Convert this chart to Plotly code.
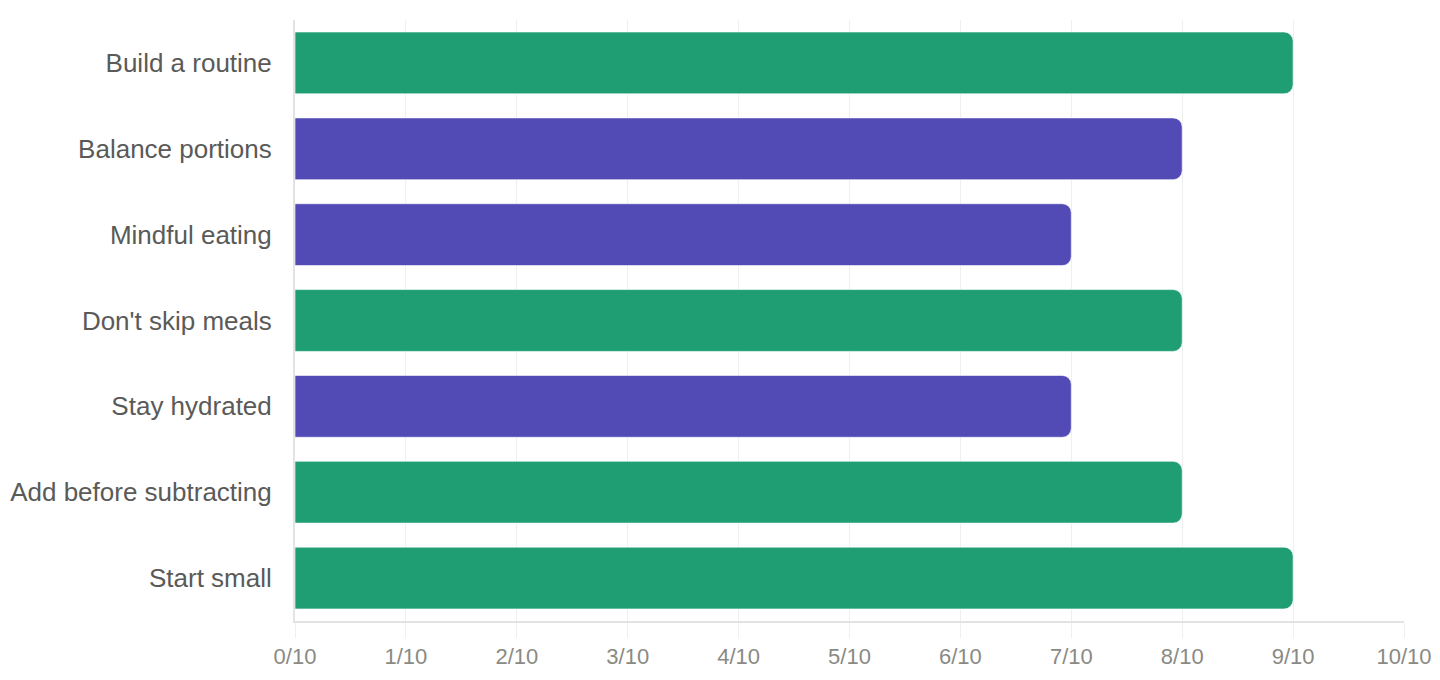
import plotly.graph_objects as go

categories = ["Build a routine", "Balance portions", "Mindful eating", "Don't skip meals",
              "Stay hydrated", "Add before subtracting", "Start small"]
scores = [9, 8, 7, 8, 7, 8, 9]
groups = ["green", "purple", "purple", "green", "purple", "green", "green"]
tick_vals = list(range(0, 11))
tick_text = [f"{v}/10" for v in tick_vals]

palette = {"green": "#1f9e74", "purple": "#534bb5"}

fig = go.Figure(go.Bar(
    y=categories, x=scores, orientation="h",
    marker=dict(color=[palette[g] for g in groups], cornerradius=9,
                line=dict(color="rgba(255,255,255,0.6)", width=1)),
    width=0.72, hoverinfo="x+y",
))

fig.update_layout(
    width=1424, height=664,
    margin=dict(l=287, r=28, t=12, b=51),
    paper_bgcolor="white", plot_bgcolor="white",
    font=dict(family="Liberation Sans, Arial, sans-serif"),
    showlegend=False,
    xaxis=dict(range=[0, 10], tickvals=tick_vals, ticktext=tick_text,
               showgrid=True, gridcolor="#efefef", gridwidth=1,
               showline=True, linecolor="#e3e3e3", linewidth=2,
               ticks="outside", ticklen=15, tickcolor="#efefef", tickwidth=1,
               tickfont=dict(size=22, color="#8a8a84"), zeroline=False,
               ticklabeloverflow="allow",
               fixedrange=True, automargin=False),
    yaxis=dict(autorange="reversed", showgrid=False,
               showline=True, linecolor="#e3e3e3", linewidth=2,
               ticks="", ticklabelstandoff=16,
               tickfont=dict(size=26, color="#5a5a58"), fixedrange=True,
               automargin=False),
)

fig.write_html("out.html")
